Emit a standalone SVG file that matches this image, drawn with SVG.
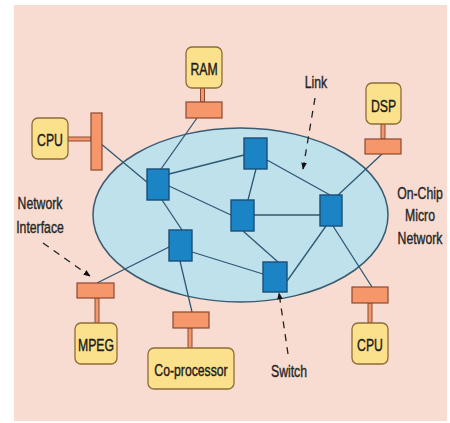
<svg xmlns="http://www.w3.org/2000/svg" width="450" height="423" viewBox="0 0 450 423">
  <style>
    .bg { fill: #f8dcd1; }
    .net { fill: #bfe1ec; stroke: #3b5c70; stroke-width: 1.5; }
    .sw { fill: #1b84c5; stroke: #1b4d78; stroke-width: 1.4; }
    .ni { fill: #f5976b; stroke: #8a4a30; stroke-width: 1.2; }
    .stem { fill: #f5976b; stroke: #8a4a30; stroke-width: 1; }
    .core { fill: #fce18d; stroke: #8c6c36; stroke-width: 1.3; }
    .link { stroke: #2d5873; stroke-width: 1.3; fill: none; }
    .lbl, .note { font-family: "Liberation Sans", Arial, sans-serif; font-size: 17px; text-anchor: middle; stroke-width: 0.4; }
    .lbl { fill: #1a1a1a; stroke: #1a1a1a; }
    .note { fill: #262626; stroke: #262626; }
    .ptr { stroke: #222; stroke-width: 1.3; stroke-dasharray: 7 6; fill: none; }
  </style>
  <defs>
    <marker id="head" viewBox="0 0 10 10" refX="9" refY="5" markerWidth="7" markerHeight="7" orient="auto" markerUnits="userSpaceOnUse">
      <path d="M0,1 L10,5 L0,9 Z" fill="#111"/>
    </marker>
  </defs>

  <rect class="bg" x="14" y="5" width="433" height="416"/>

  <!-- on-chip network region -->
  <ellipse class="net" cx="240.5" cy="215" rx="147.5" ry="87"/>

  <!-- links between switches and interfaces -->
  <g id="links">
    <line class="link" x1="100" y1="143" x2="148" y2="183"/>
    <line class="link" x1="197" y1="118" x2="161" y2="169"/>
    <line class="link" x1="169" y1="174" x2="244" y2="155"/>
    <line class="link" x1="169" y1="186" x2="231" y2="215"/>
    <line class="link" x1="162" y1="200" x2="182" y2="230"/>
    <line class="link" x1="256" y1="169" x2="248" y2="200"/>
    <line class="link" x1="267" y1="160" x2="330" y2="195"/>
    <line class="link" x1="254" y1="215" x2="320" y2="215"/>
    <line class="link" x1="243" y1="231" x2="278" y2="262"/>
    <line class="link" x1="337" y1="196" x2="382" y2="154"/>
    <line class="link" x1="326" y1="226" x2="287" y2="281"/>
    <line class="link" x1="333" y1="226" x2="372" y2="287"/>
    <line class="link" x1="192" y1="252" x2="263" y2="274"/>
    <line class="link" x1="169" y1="247" x2="97" y2="283"/>
    <line class="link" x1="180" y1="261" x2="192" y2="312"/>
  </g>

  <!-- switches -->
  <g id="switch-1"><rect class="sw" x="147" y="169" width="22" height="31"/></g>
  <g id="switch-2"><rect class="sw" x="244" y="138" width="23" height="31"/></g>
  <g id="switch-3"><rect class="sw" x="231" y="200" width="23" height="31"/></g>
  <g id="switch-4"><rect class="sw" x="320" y="195" width="22" height="31"/></g>
  <g id="switch-5"><rect class="sw" x="169" y="230" width="23" height="31"/></g>
  <g id="switch-6"><rect class="sw" x="263" y="262" width="24" height="30"/></g>

  <!-- RAM -->
  <g id="ram">
    <rect class="stem" x="200.5" y="88" width="4" height="14"/>
    <rect class="ni" x="186" y="102" width="36" height="16"/>
    <rect class="core" x="186" y="47" width="36" height="41" rx="6"/>
    <text class="lbl" transform="translate(204,75) scale(0.72,1)">RAM</text>
  </g>

  <!-- CPU (left) -->
  <g id="cpu-left">
    <rect class="stem" x="68" y="137" width="23" height="4"/>
    <rect class="ni" x="91" y="113" width="11" height="57"/>
    <rect class="core" x="32" y="118" width="36" height="41" rx="6"/>
    <text class="lbl" transform="translate(50,146) scale(0.72,1)">CPU</text>
  </g>

  <!-- DSP -->
  <g id="dsp">
    <rect class="stem" x="381" y="124" width="4" height="15"/>
    <rect class="ni" x="365" y="139" width="36" height="15"/>
    <rect class="core" x="366" y="83" width="35" height="41" rx="6"/>
    <text class="lbl" transform="translate(383.5,112) scale(0.72,1)">DSP</text>
  </g>

  <!-- MPEG -->
  <g id="mpeg">
    <rect class="stem" x="95" y="298" width="4" height="25"/>
    <rect class="ni" x="77" y="283" width="37" height="15"/>
    <rect class="core" x="75" y="323" width="42" height="41" rx="6"/>
    <text class="lbl" transform="translate(96,351) scale(0.72,1)">MPEG</text>
  </g>

  <!-- Co-processor -->
  <g id="coprocessor">
    <rect class="stem" x="188" y="328" width="4" height="20"/>
    <rect class="ni" x="173" y="312" width="36" height="16"/>
    <rect class="core" x="148" y="348" width="86" height="41" rx="6"/>
    <text class="lbl" transform="translate(191,376) scale(0.72,1)">Co-processor</text>
  </g>

  <!-- CPU (right) -->
  <g id="cpu-right">
    <rect class="stem" x="368" y="303" width="4" height="20"/>
    <rect class="ni" x="352" y="287" width="36" height="16"/>
    <rect class="core" x="352" y="323" width="36" height="41" rx="6"/>
    <text class="lbl" transform="translate(370,351) scale(0.72,1)">CPU</text>
  </g>

  <!-- annotations -->
  <g id="label-link">
    <text class="note" transform="translate(316,88) scale(0.72,1)">Link</text>
    <line class="ptr" x1="315" y1="98" x2="303" y2="169" marker-end="url(#head)"/>
  </g>
  <g id="label-network-interface">
    <text class="note" transform="translate(40,209) scale(0.72,1)">Network</text>
    <text class="note" transform="translate(40,233) scale(0.72,1)">Interface</text>
    <line class="ptr" x1="43" y1="243" x2="90" y2="276" marker-end="url(#head)"/>
  </g>
  <g id="label-switch">
    <text class="note" transform="translate(289,377) scale(0.72,1)">Switch</text>
    <line class="ptr" x1="288" y1="354" x2="279" y2="293" marker-end="url(#head)"/>
  </g>
  <g id="label-micro-network">
    <text class="note" transform="translate(420,199) scale(0.72,1)">On-Chip</text>
    <text class="note" transform="translate(420,221) scale(0.72,1)">Micro</text>
    <text class="note" transform="translate(420,244) scale(0.72,1)">Network</text>
  </g>
</svg>
